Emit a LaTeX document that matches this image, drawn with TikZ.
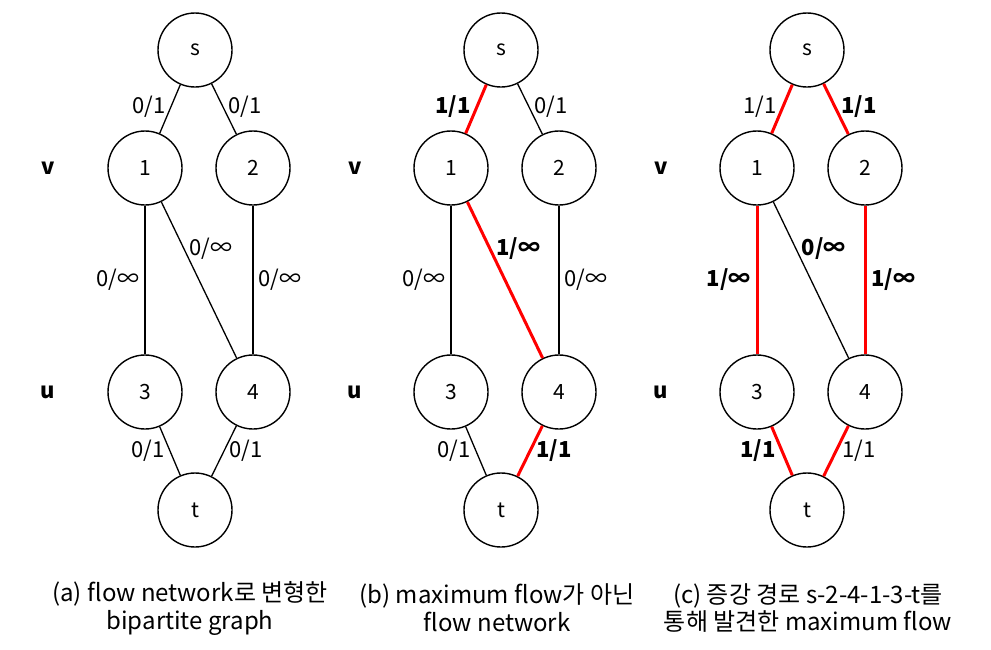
\documentclass[tikz,border=0pt]{standalone}
\usepackage{fontspec}
\setmainfont{Noto Sans CJK KR}
\usetikzlibrary{positioning}
\newcommand{\vnode}[3]{\node [vtx] (#1) at (#2) {#3}}
\newcommand{\side}[2]{\node [side] at (#1) {#2}}

\begin{document}
\begin{tikzpicture}[x=1pt, y=-1pt,
  vtx/.style={draw, circle, line width=1.4pt, minimum size=74pt, inner sep=0pt, font=\fontsize{21}{24}\selectfont},
  side/.style={font=\fontsize{22}{24}\selectfont\bfseries},
  flow/.style={line width=1.3pt},
  aug/.style={red, line width=3pt},
  lab/.style={text=black, font=\fontsize{22}{24}\selectfont, inner sep=5pt},
  blab/.style={lab, font=\fontsize{22}{24}\selectfont\bfseries},
  captxt/.style={font=\fontsize{24}{28}\selectfont, align=center}]

\useasboundingbox (0,0) rectangle (991,649);

% (a)
\vnode{sa}{195,50}{s};
\vnode{1a}{145,168}{1};
\vnode{2a}{253,168}{2};
\vnode{3a}{145,392}{3};
\vnode{4a}{253,392}{4};
\vnode{ta}{195,510}{t};
\side{48,168}{v};
\side{48,392}{u};

\draw[flow] (sa) -- (1a) node [lab, pos=0.45, left] {0/1};
\draw[flow] (sa) -- (2a) node [lab, pos=0.45, right] {0/1};
\draw[flow] (1a) -- (3a) node [lab, midway, left] {0/∞};
\draw[flow] (1a) -- (4a) node [lab, pos=0.3, right] {0/∞};
\draw[flow] (2a) -- (4a) node [lab, midway, right] {0/∞};
\draw[flow] (3a) -- (ta) node [lab, midway, left] {0/1};
\draw[flow] (4a) -- (ta) node [lab, midway, right] {0/1};

\node [captxt] (capa) at (190,608) {(a) flow network로 변형한\\bipartite graph};

% (b)
\vnode{sb}{501,50}{s};
\vnode{1b}{451,168}{1};
\vnode{2b}{559,168}{2};
\vnode{3b}{451,392}{3};
\vnode{4b}{559,392}{4};
\vnode{tb}{501,510}{t};
\side{355,168}{v};
\side{355,392}{u};

\draw[aug] (sb) -- (1b) node [blab, pos=0.45, left] {1/1};
\draw[flow] (sb) -- (2b) node [lab, pos=0.45, right] {0/1};
\draw[flow] (1b) -- (3b) node [lab, midway, left] {0/∞};
\draw[aug] (1b) -- (4b) node [blab, pos=0.3, right] {1/∞};
\draw[flow] (2b) -- (4b) node [lab, midway, right] {0/∞};
\draw[flow] (3b) -- (tb) node [lab, midway, left] {0/1};
\draw[aug] (4b) -- (tb) node [blab, midway, right] {1/1};

\node [captxt] (capb) at (497,608) {(b) maximum flow가 아닌\\flow network};

% (c)
\vnode{sc}{807,50}{s};
\vnode{1c}{757,168}{1};
\vnode{2c}{865,168}{2};
\vnode{3c}{757,392}{3};
\vnode{4c}{865,392}{4};
\vnode{tc}{807,510}{t};
\side{661,168}{v};
\side{661,392}{u};

\draw[aug] (sc) -- (1c) node [lab, pos=0.45, left] {1/1};
\draw[aug] (sc) -- (2c) node [blab, pos=0.45, right] {1/1};
\draw[aug] (1c) -- (3c) node [blab, midway, left] {1/∞};
\draw[flow] (1c) -- (4c) node [blab, pos=0.3, right] {0/∞};
\draw[aug] (2c) -- (4c) node [blab, midway, right] {1/∞};
\draw[aug] (3c) -- (tc) node [blab, midway, left] {1/1};
\draw[aug] (4c) -- (tc) node [lab, midway, right] {1/1};

\node [captxt] (capc) at (808,608) {(c) 증강 경로 s-2-4-1-3-t를\\통해 발견한 maximum flow};

\end{tikzpicture}
\end{document}
